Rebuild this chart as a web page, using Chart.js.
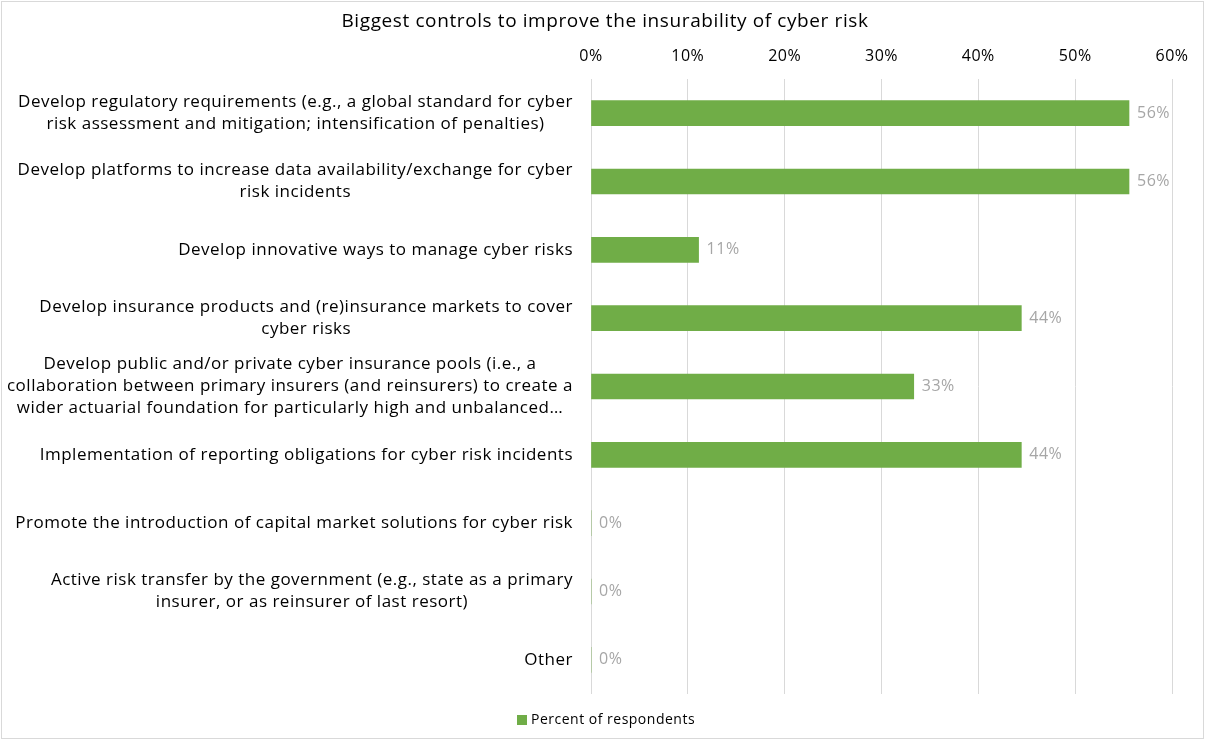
<!DOCTYPE html>
<html>
<head>
<meta charset="utf-8">
<script src="https://cdn.jsdelivr.net/npm/chart.js@4.4.1/dist/chart.umd.min.js"></script>
<style>
    html, body { margin: 0; padding: 0; background: #fff; }
    canvas { display: block; }
</style>
</head>
<body>
<canvas id="controlsbargraph" width="1205" height="740"></canvas>
<script>
const categories = [
    ['Develop regulatory requirements (e.g., a global standard for cyber', 'risk assessment and mitigation; intensification of penalties)'],
    ['Develop platforms to increase data availability/exchange for cyber', 'risk incidents'],
    ['Develop innovative ways to manage cyber risks'],
    ['Develop insurance products and (re)insurance markets to cover', 'cyber risks'],
    ['Develop public and/or private cyber insurance pools (i.e., a', 'collaboration between primary insurers (and reinsurers) to create a', 'wider actuarial foundation for particularly high and unbalanced\u2026'],
    ['Implementation of reporting obligations for cyber risk incidents'],
    ['Promote the introduction of capital market solutions for cyber risk'],
    ['Active risk transfer by the government (e.g., state as a primary', 'insurer, or as reinsurer of last resort)'],
    ['Other']
]
// share of respondents (9 answers, so steps of 1/9)
const respondents = [55.56, 55.56, 11.11, 44.44, 33.33, 44.44, 0, 0, 0]
const xTicks = [0, 10, 20, 30, 40, 50, 60]
const seriesName = 'Percent of respondents'
const chartTitle = 'Biggest controls to improve the insurability of cyber risk'

const FONT = '"Open Sans", sans-serif'
const GREEN = '#70ad47'
const SPACING = '0.5px'

// slightly wider letter spacing for every text on the canvas
const textSpacing = {
    id: 'textSpacing',
    beforeDraw(chart) {
        chart.ctx.letterSpacing = SPACING
    }
}

// left side labels: block right aligned, lines centred inside the block
const categoryLabels = {
    id: 'categoryLabels',
    afterDraw(chart) {
        const ctx = chart.ctx
        const yScale = chart.scales.y
        ctx.save()
        ctx.letterSpacing = SPACING
        ctx.font = '17px ' + FONT
        ctx.fillStyle = '#000'
        ctx.textBaseline = 'middle'
        ctx.textAlign = 'center'
        const right = chart.chartArea.left - 18
        const lineH = 22
        categories.forEach(function(lines, i) {
            const y = yScale.getPixelForValue(i)
            const w = Math.max(...lines.map(l => ctx.measureText(l).width))
            lines.forEach(function(l, j) {
                ctx.fillText(l, right - w / 2, y + (j - (lines.length - 1) / 2) * lineH)
            })
        })
        ctx.restore()
    }
}

// value labels after each bar
const valueLabels = {
    id: 'valueLabels',
    afterDatasetsDraw(chart) {
        const ctx = chart.ctx
        const meta = chart.getDatasetMeta(0)
        ctx.save()
        ctx.letterSpacing = SPACING
        ctx.font = '16px ' + FONT
        ctx.fillStyle = '#a6a6a6'
        ctx.textBaseline = 'middle'
        ctx.textAlign = 'left'
        meta.data.forEach(function(bar, i) {
            ctx.fillText(Math.round(respondents[i]) + '%', bar.x + 8, bar.y)
        })
        ctx.restore()
    }
}

// title, legend at the bottom and the light frame round the chart
const frameTitleLegend = {
    id: 'frameTitleLegend',
    afterDraw(chart) {
        const ctx = chart.ctx
        ctx.save()
        ctx.strokeStyle = '#d9d9d9'
        ctx.lineWidth = 1
        ctx.strokeRect(1.5, 1.5, chart.width - 3, chart.height - 3)

        ctx.textBaseline = 'middle'
        ctx.fillStyle = '#000'
        ctx.letterSpacing = '0.6px'
        ctx.font = '19px ' + FONT
        ctx.textAlign = 'center'
        ctx.fillText(chartTitle, 605, 22)

        ctx.letterSpacing = SPACING
        ctx.font = '14px ' + FONT
        ctx.textAlign = 'left'
        const y = 720
        ctx.fillStyle = GREEN
        ctx.fillRect(517, y - 5, 10, 10)
        ctx.fillStyle = '#000'
        ctx.fillText(seriesName, 531, y)
        ctx.restore()
    }
}

new Chart(document.getElementById('controlsbargraph'), {
    type: 'bar',
    data: {
        labels: categories.map(c => c.join(' ')),
        datasets: [{
            label: seriesName,
            data: respondents,
            backgroundColor: GREEN,
            borderWidth: 0,
            barThickness: 25
        }]
    },
    options: {
        indexAxis: 'y',
        responsive: false,
        animation: false,
        devicePixelRatio: 1,
        layout: {
            padding: { left: 0, right: 33, top: 47, bottom: 46 }
        },
        plugins: {
            legend: { display: false },
            tooltip: { enabled: false },
            title: { display: false }
        },
        scales: {
            x: {
                position: 'top',
                min: 0,
                max: 60,
                afterBuildTicks: function(scale) {
                    scale.ticks = xTicks.map(v => ({ value: v }))
                },
                afterFit: function(scale) {
                    scale.height = 32
                },
                ticks: {
                    color: '#000',
                    font: { family: FONT, size: 16 },
                    padding: 13,
                    callback: v => v + '%'
                },
                grid: { color: '#d9d9d9', drawTicks: false },
                border: { display: false }
            },
            y: {
                grid: { display: false },
                border: { display: false },
                ticks: { display: false },
                afterFit: function(scale) {
                    scale.width = 591
                }
            }
        }
    },
    plugins: [textSpacing, categoryLabels, valueLabels, frameTitleLegend]
})
</script>
</body>
</html>
